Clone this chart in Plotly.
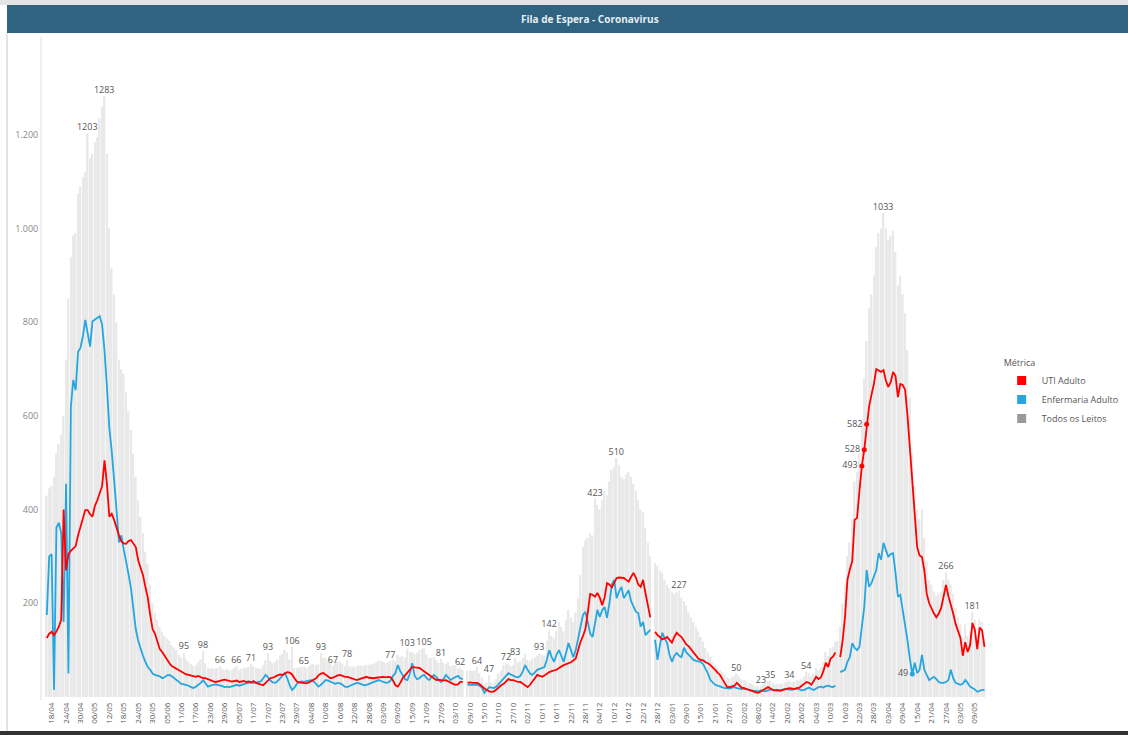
import pandas as pd
import plotly.graph_objects as go

inicio = "2020-04-16"
fim = "2021-05-13"
dias_sem_registro = ["2020-11-06", "2020-11-07"]

# UTI Adulto, um valor por dia (None = sem dado)
uti_adulto = [
    126, 135, 139, 132, 140, 150, 165, 400, 270, 305,
    312, 316, 322, 345, 365, 385, 399, 399, 390, 385,
    408, 420, 435, 450, 505, 455, 385, 391, 378, 360,
    345, 332, 328, 327, 333, 335, 328, 320, 292, 275,
    260, 235, 212, 175, 145, 135, 118, 102, 96, 88,
    79, 72, 66, 63, 60, 58, 55, 52, 48, 47,
    46, 44, 43, 45, 43, 40, 40, 38, 36, 34,
    32, 33, 35, 36, 37, 36, 34, 33, 34, 35,
    32, 33, 34, 32, 33, 31, 34, 30, 28, 26,
    25, 30, 36, 40, 41, 44, 46, 48, 47, 50,
    53, 52, 48, 40, 33, 31, 30, 30, 29, 31,
    34, 36, 40, 46, 50, 51, 47, 43, 40, 41,
    44, 46, 47, 45, 43, 43, 41, 39, 37, 36,
    38, 40, 42, 43, 41, 40, 40, 41, 42, 43,
    43, 42, 43, 42, 35, 25, 22, 30, 40, 46,
    52, 60, 64, 63, 62, 62, 58, 54, 51, 47,
    42, 38, 36, 37, 36, 35, 36, 33, 30, 28,
    26, 27, 32, 32, None, 30, 31, 30, 30, 30,
    27, 22, 18, 15, 12, 11, 12, 16, 21, 25,
    28, 32, 38, 36, 36, 34, 32, 32, 28, 24,
    21, 26, 34, 40, 47, 45, 43, 46, 50, 53,
    55, 56, 58, 62, 66, 68, 70, 72, 74, 78,
    82, 100, 118, 130, 145, 180, 220, 218, 214, 222,
    212, 196, 212, 243, 240, 234, 245, 254, 255, 255,
    254, 250, 246, 256, 265, 255, 240, 235, 250, 222,
    195, 170, None, 139, 132, 128, 123, 125, 128, 122,
    116, 128, 137, 132, 128, 120, 112, 108, 101, 95,
    87, 82, 79, 78, 74, 72, 68, 64, 58, 52,
    47, 38, 28, 21, 21, 22, 24, 30, 26, 20,
    19, 17, 15, 14, 12, 10, 9, 12, 16, 19,
    21, 18, 15, 14, 15, 13, 14, 16, 18, 19,
    18, 17, 19, 20, 24, 28, 32, 30, 26, 34,
    43, 38, 42, 55, 73, 64, 82, 86, 95, None,
    85, 120, 171, 250, 272, 290, 378, 382, 440, 493,
    528, 582, 620, 645, 668, 700, 697, 694, 698, 675,
    662, 672, 694, 685, 640, 668, 666, 656, 600, 530,
    457, 370, 320, 302, 299, 270, 220, 200, 188, 178,
    170, 178, 190, 215, 239, 215, 198, 178, 156, 140,
    126, 88, 117, 96, 110, 158, 143, 102, 148, 142,
    107,
]

# Enfermaria Adulto
enfermaria_adulto = [
    175, 300, 305, 15, 362, 372, 350, 160, 455, 50,
    619, 677, 655, 737, 745, 770, 805, 780, 748, 802,
    806, 809, 813, 795, 740, 662, 575, 525, 470, 400,
    330, 345, 315, 290, 262, 232, 190, 145, 120, 103,
    88, 75, 64, 58, 50, 47, 46, 44, 40, 42,
    46, 47, 44, 40, 36, 30, 28, 27, 26, 24,
    21, 19, 22, 26, 30, 36, 30, 22, 24, 26,
    27, 26, 25, 23, 21, 22, 21, 23, 25, 26,
    24, 26, 28, 29, 30, 31, 30, 31, 32, 33,
    40, 47, 42, 35, 31, 30, 34, 40, 45, 51,
    40, 25, 15, 20, 28, 32, 33, 32, 34, 35,
    36, 33, 28, 22, 26, 32, 36, 35, 33, 30,
    28, 30, 29, 26, 22, 21, 24, 26, 28, 30,
    29, 27, 25, 26, 28, 30, 31, 33, 36, 34,
    32, 30, 31, 35, 45, 51, 68, 55, 47, 38,
    36, 50, 72, 45, 38, 40, 45, 47, 40, 36,
    42, 47, 43, 36, 32, 38, 47, 42, 36, 40,
    42, 45, 40, 38, None, 26, 26, 25, 26, 26,
    24, 20, 9, 15, 21, 20, 19, 22, 28, 32,
    40, 46, 51, 48, 45, 43, 42, 45, 55, 68,
    58, 50, 47, 52, 58, 60, 62, 64, 80, 100,
    85, 75, 90, 100, 88, 75, 95, 115, 100, 85,
    100, 128, 150, 175, 182, 160, 135, 128, 160, 186,
    171, 185, 192, 169, 200, 240, 250, 211, 225, 235,
    211, 220, 228, 205, 192, 182, 179, 150, 160, 132,
    138, 143, None, 122, 79, 110, 137, 125, 115, 90,
    75, 88, 94, 88, 85, 105, 95, 90, 84, 79,
    77, 76, 75, 70, 60, 50, 36, 30, 26, 24,
    22, 20, 19, 19, 18, 20, 21, 19, 18, 17,
    18, 16, 15, 14, 13, 13, 12, 14, 13, 12,
    14, 16, 15, 14, 13, 14, 15, 17, 16, 15,
    15, 17, 18, 16, 14, 15, 18, 20, 17, 15,
    18, 21, 22, 20, 23, 24, 22, 21, 24, None,
    53, 55, 58, 75, 85, 115, 105, 100, 107, 150,
    192, 271, 235, 243, 255, 271, 307, 293, 329, 314,
    299, 305, 307, 265, 214, 218, 185, 158, 120, 80,
    49, 73, 51, 58, 90, 58, 45, 36, 40, 43,
    38, 32, 30, 30, 32, 36, 58, 40, 30, 28,
    26, 28, 36, 30, 22, 19, 16, 11, 13, 15,
    15,
]

# Todos os Leitos (barras)
todos_leitos = [
    430, 445, 450, 470, 520, 540, 560, 600, 720, 850,
    940, 985, 990, 1075, 1090, 1110, 1120, 1203, 1150, 1160,
    1185, 1195, 1235, 1260, 1283, 1160, 1000, 915, 860, 800,
    720, 700, 690, 650, 610, 570, 520, 470, 420, 385,
    350, 310, 285, 240, 200, 180, 165, 150, 140, 130,
    125, 120, 110, 105, 100, 90, 85, 95, 80, 75,
    70, 66, 68, 74, 80, 98, 72, 62, 60, 62,
    60, 62, 66, 60, 58, 60, 57, 58, 62, 66,
    58, 60, 63, 62, 64, 71, 65, 62, 61, 60,
    68, 78, 93, 77, 72, 75, 80, 88, 92, 100,
    95, 80, 106, 62, 62, 63, 64, 65, 63, 66,
    70, 70, 68, 70, 93, 84, 83, 78, 73, 67,
    72, 76, 76, 71, 66, 78, 65, 65, 65, 66,
    67, 67, 67, 69, 69, 70, 71, 74, 78, 77,
    75, 72, 74, 77, 80, 76, 90, 85, 87, 84,
    103, 96, 95, 92, 95, 100, 103, 105, 91, 83,
    84, 85, 79, 73, 81, 73, 70, 75, 66, 68,
    68, 60, 62, 58, None, 56, 57, 55, 56, 64,
    51, 42, 27, 30, 47, 31, 31, 38, 49, 57,
    68, 72, 70, 66, 68, 83, 74, 77, 83, 92,
    79, 76, 81, 85, 88, 93, 90, 88, 120, 142,
    130, 125, 140, 160, 150, 140, 165, 185, 170, 160,
    180, 210, 260, 320, 335, 340, 350, 345, 423, 410,
    400, 420, 440, 430, 460, 485, 490, 510, 495, 470,
    465, 475, 480, 470, 455, 440, 420, 400, 395, 360,
    330, 300, None, 286, 280, 270, 265, 250, 240, 232,
    225, 220, 224, 227, 212, 205, 195, 180, 170, 160,
    150, 140, 128, 118, 105, 95, 85, 75, 68, 62,
    58, 52, 48, 42, 40, 42, 44, 50, 44, 38,
    36, 33, 30, 28, 26, 24, 22, 23, 28, 30,
    33, 35, 30, 27, 28, 27, 29, 31, 33, 34,
    32, 33, 36, 35, 38, 43, 54, 50, 44, 50,
    62, 58, 64, 75, 96, 88, 104, 107, 118, 120,
    150, 200, 240, 300, 330, 380, 460, 480, 520, 590,
    680, 760, 830, 860, 900, 960, 990, 1000, 1033, 1000,
    975, 985, 995, 950, 880, 900, 860, 820, 740, 640,
    520, 450, 400, 380, 400, 340, 290, 250, 240, 225,
    215, 220, 225, 250, 266, 250, 240, 220, 190, 170,
    155, 125, 155, 130, 140, 181, 165, 120, 165, 160,
    125,
]

# dias com rotulo de dados sobre a barra
rotulos_barras = [17, 24, 57, 65, 72, 79, 85, 92, 102, 107, 114, 119, 125,
                  143, 150, 157, 164, 172, 179, 184, 191, 195, 205, 209, 228,
                  237, 263, 287, 297, 301, 309, 316, 348, 374, 385]
# pontos destacados nas linhas
destaque_uti = [339, 340, 341]
destaque_enf = [360]

# --- eixo x (categorias diarias) --------------------------------------
datas = pd.date_range(inicio, fim)
datas = datas[~datas.isin(pd.to_datetime(dias_sem_registro))]
categorias = datas.strftime("%Y-%m-%d").tolist()

tick_vals = categorias[2::6]
tick_text = [d[8:10] + "/" + d[5:7] for d in tick_vals]

VERMELHO = "#FF0000"
AZUL = "#26A6DF"
CINZA_BARRA = "#E9E9E9"
FONTE = "Segoe UI, Open Sans, sans-serif"

texto_barras = [str(v) if i in rotulos_barras else "" for i, v in enumerate(todos_leitos)]

fig = go.Figure()

fig.add_trace(go.Bar(x=categorias, y=todos_leitos, marker_color=CINZA_BARRA,
                     marker_line_width=0, text=texto_barras,
                     textposition="outside", constraintext="none",
                     cliponaxis=False,
                     textfont=dict(size=9, color="#555555"),
                     showlegend=False, hoverinfo="x+y"))

fig.add_trace(go.Scatter(x=categorias, y=enfermaria_adulto, mode="lines",
                         line=dict(color=AZUL, width=1.8),
                         connectgaps=False, showlegend=False))
fig.add_trace(go.Scatter(x=categorias, y=uti_adulto, mode="lines",
                         line=dict(color=VERMELHO, width=1.8),
                         connectgaps=False, showlegend=False))

# pontos com rotulo
fig.add_trace(go.Scatter(x=[categorias[i] for i in destaque_uti],
                         y=[uti_adulto[i] for i in destaque_uti],
                         mode="markers+text", text=[str(uti_adulto[i]) for i in destaque_uti],
                         textposition="middle left",
                         textfont=dict(size=9, color="#555555"),
                         marker=dict(color=VERMELHO, size=5), showlegend=False))
fig.add_trace(go.Scatter(x=[categorias[i] for i in destaque_enf],
                         y=[enfermaria_adulto[i] for i in destaque_enf],
                         mode="markers+text", text=[str(enfermaria_adulto[i]) for i in destaque_enf],
                         textposition="middle left",
                         textfont=dict(size=9, color="#555555"),
                         marker=dict(color=AZUL, size=5), showlegend=False))

# legenda com quadrados
for nome, cor in [("UTI Adulto", VERMELHO), ("Enfermaria Adulto", AZUL),
                  ("Todos os Leitos", "#999999")]:
    fig.add_trace(go.Scatter(x=[None], y=[None], mode="markers", name=nome,
                             marker=dict(symbol="square", size=9, color=cor)))

fig.update_layout(
    width=1128, height=735, autosize=False,
    margin=dict(l=42, r=138, t=37, b=35),
    paper_bgcolor="white", plot_bgcolor="white",
    font=dict(family=FONTE, color="#555555"),
    separators=",.",
    bargap=0.3,
    showlegend=True,
    legend=dict(title=dict(text="Métrica", font=dict(size=9, color="#555555")),
                font=dict(size=9, color="#555555"),
                xref="container", yref="container",
                x=0.888, xanchor="left", y=0.518, yanchor="top",
                bgcolor="rgba(0,0,0,0)", tracegroupgap=0),
    xaxis=dict(type="category", range=[-2, 392.3],
               tickmode="array", tickvals=tick_vals, ticktext=tick_text,
               tickangle=-90, tickfont=dict(size=8, color="#555555"),
               showgrid=False, zeroline=False, showline=False, ticks=""),
    yaxis=dict(range=[-6.5, 1409], tickvals=[200, 400, 600, 800, 1000, 1200],
               separatethousands=True,
               tickfont=dict(size=9, color="#888888"),
               showgrid=False, zeroline=False, showline=True,
               linecolor="#EFEFEF", linewidth=2, ticks=""),
    shapes=[
        # faixa do titulo
        dict(type="rect", xref="paper", yref="paper", x0=-0.0369, x1=1.16,
             y0=1.006, y1=1.0483, fillcolor="#2F6381", line_width=0, layer="above"),
        dict(type="rect", xref="paper", yref="paper", x0=-0.05, x1=1.16,
             y0=1.0483, y1=1.06, fillcolor="#E4E4E4", line_width=0),
        # moldura
        dict(type="line", xref="paper", yref="paper", x0=-0.0369, x1=-0.0369,
             y0=-0.0468, y1=1.006, line=dict(color="#C8C8C8", width=1)),
        dict(type="rect", xref="paper", yref="paper", x0=-0.05, x1=1.16,
             y0=-0.06, y1=-0.0468, fillcolor="#333333", line_width=0),
    ],
    annotations=[
        dict(text="<b>Fila de Espera - Coronavirus</b>", xref="paper", yref="paper",
             x=0.578, y=1.027, xanchor="center", yanchor="middle", showarrow=False,
             font=dict(size=10, color="#E6EEF3", family=FONTE)),
    ],
)

# sem margem no body, para a figura ocupar a janela toda
fig.write_html("out.html", config={"displayModeBar": False},
               post_script="document.body.style.margin='0';")
